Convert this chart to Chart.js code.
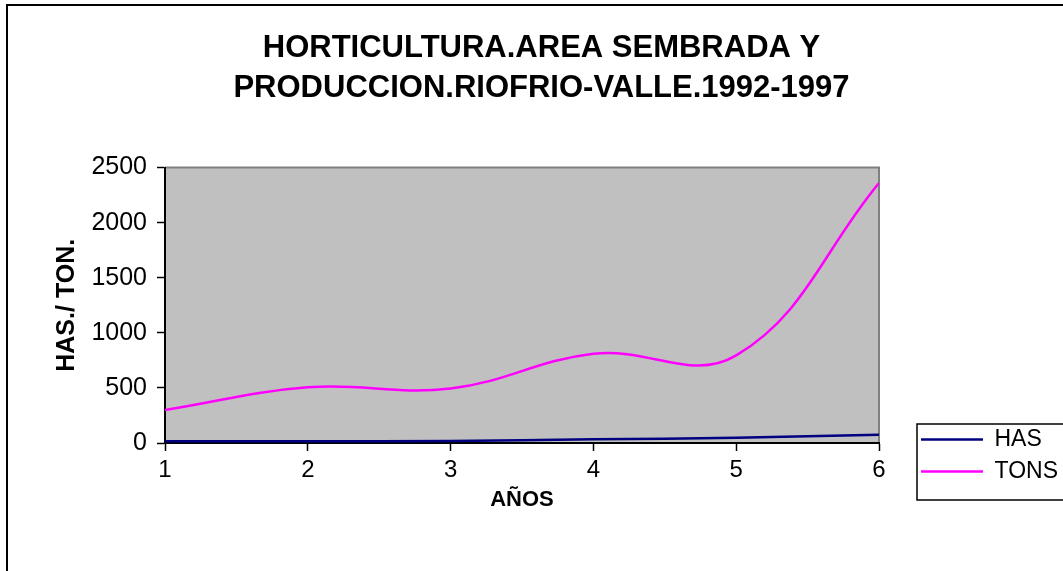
<!DOCTYPE html>
<html>
<head>
<meta charset="utf-8">
<title>Horticultura Riofrio-Valle 1992-1997</title>
<script src="https://cdn.jsdelivr.net/npm/chart.js@4"></script>
<style>
  body { margin: 0; background: #fff; }
  canvas { display: block; }
</style>
</head>
<body>
<canvas id="chart" width="1063" height="571"></canvas>
<script>
// data
const years = [1, 2, 3, 4, 5, 6];
const hasValues = [15, 17, 18, 33, 48, 75];
const tonsValues = [300, 505, 495, 810, 795, 2360];
const seriesNames = ['HAS', 'TONS'];
const yMax = 2500;
const yStep = 500;

Chart.defaults.font.family = '"Liberation Sans", Arial, sans-serif';
Chart.defaults.color = '#000';

// grey plot area, outer frame and legend frame
const frame = {
  id: 'frame',
  beforeDraw(chart) {
    const { ctx, chartArea: a } = chart;
    ctx.save();
    ctx.fillStyle = '#c0c0c0';
    ctx.fillRect(a.left, a.top, a.right - a.left, a.bottom - a.top);
    ctx.strokeStyle = '#808080';
    ctx.lineWidth = 2;
    ctx.beginPath();
    ctx.moveTo(a.left, a.top);
    ctx.lineTo(a.right, a.top);
    ctx.lineTo(a.right, a.bottom);
    ctx.stroke();
    ctx.restore();
  },
  afterLayout(chart) {
    // put the legend below the right end of the plot
    const lg = chart.legend;
    lg.left = 912; lg.right = 1063; lg.width = 151;
    lg.top = 419; lg.bottom = 500; lg.height = 81;
  },
  afterDraw(chart) {
    const ctx = chart.ctx;
    ctx.save();
    ctx.strokeStyle = '#000';
    ctx.lineWidth = 2;
    ctx.strokeRect(7, 5, 1100, 600);
    ctx.lineWidth = 1.5;
    ctx.strokeRect(917, 424, 200, 76);
    ctx.restore();
  }
};

const points = vals => years.map((x, i) => ({ x, y: vals[i] }));

new Chart(document.getElementById('chart'), {
  type: 'line',
  data: {
    datasets: [
      {
        label: seriesNames[0],
        data: points(hasValues),
        borderColor: '#000080',
        backgroundColor: '#000080',
        borderWidth: 2.5,
        pointRadius: 0,
        tension: 0.4
      },
      {
        label: seriesNames[1],
        data: points(tonsValues),
        borderColor: '#ff00ff',
        backgroundColor: '#ff00ff',
        borderWidth: 2.5,
        pointRadius: 0,
        tension: 0.4
      }
    ]
  },
  options: {
    responsive: false,
    devicePixelRatio: 1,
    animation: false,
    layout: { padding: { left: 20, right: 0, top: 0, bottom: 0 } },
    plugins: {
      title: {
        display: true,
        text: ['HORTICULTURA.AREA SEMBRADA Y', 'PRODUCCION.RIOFRIO-VALLE.1992-1997'],
        font: { size: 31, weight: 'bold', lineHeight: 1.3 },
        padding: { top: 28, bottom: 59 }
      },
      legend: {
        position: 'chartArea',
        align: 'start',
        labels: {
          usePointStyle: true,
          pointStyle: 'line',
          pointStyleWidth: 62,
          padding: 9,
          font: { size: 23 }
        }
      },
      tooltip: { enabled: false }
    },
    scales: {
      x: {
        type: 'linear',
        min: years[0],
        max: years[years.length - 1],
        afterFit(s) { s.height = 128; },
        ticks: { stepSize: 1, padding: 5, font: { size: 24 } },
        grid: { drawOnChartArea: false, tickLength: 8, tickColor: '#000', tickWidth: 1.5 },
        border: { color: '#000', width: 2 },
        title: {
          display: true,
          text: 'AÑOS',
          font: { size: 22, weight: 'bold' },
          padding: { top: 0, bottom: 58 }
        }
      },
      y: {
        min: 0,
        max: yMax,
        afterFit(s) { s.width = 145; },
        ticks: {
          stepSize: yStep,
          padding: 10,
          font: { size: 25 },
          callback: v => String(v)
        },
        grid: { drawOnChartArea: false, tickLength: 8, tickColor: '#000', tickWidth: 1.5 },
        border: { color: '#000', width: 2 },
        title: {
          display: true,
          text: 'HAS./ TON.',
          font: { size: 25, weight: 'bold' },
          padding: { top: 32, bottom: 0 }
        }
      },
      yR: {
        position: 'right',
        afterFit(s) { s.width = 184; },
        ticks: { display: false },
        grid: { display: false },
        border: { display: false }
      }
    }
  },
  plugins: [frame]
});
</script>
</body>
</html>
